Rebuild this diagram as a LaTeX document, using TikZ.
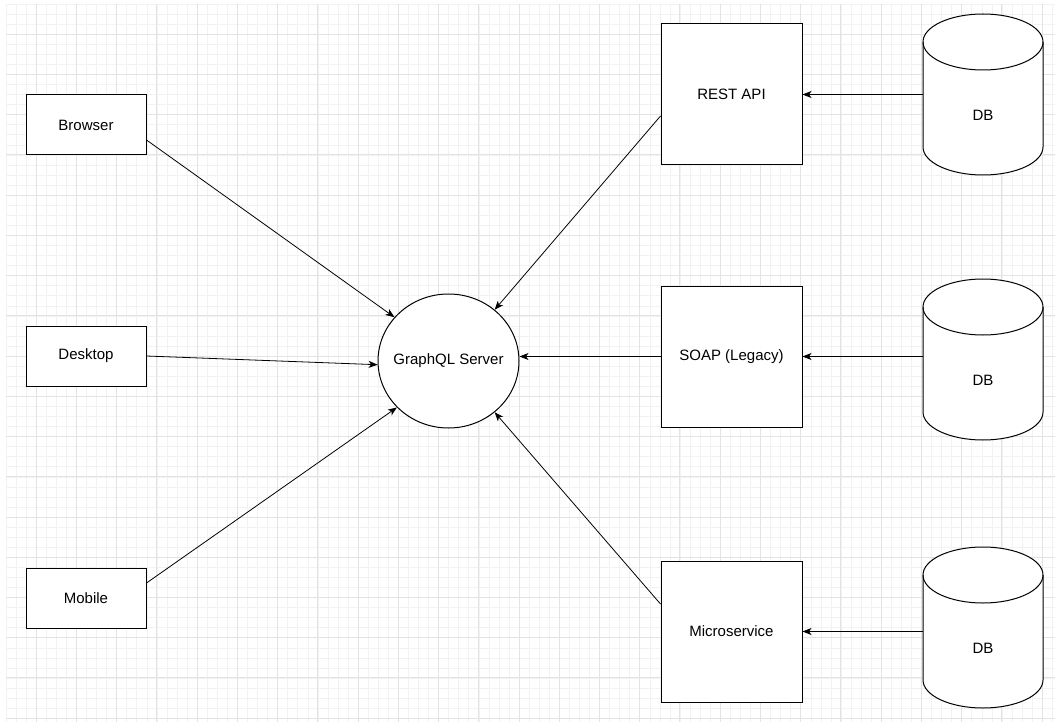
\documentclass[tikz,border=0pt]{standalone}
\usepackage{fontspec}
\setmainfont{Liberation Sans}
\usetikzlibrary{shapes.geometric,arrows.meta}
\definecolor{gridminor}{HTML}{F2F2F2}
\definecolor{gridmajor}{HTML}{E3E3E3}
\newcommand\mydbcyl[2]{%
  \node[draw=none,minimum width=120pt,minimum height=161pt,inner sep=0pt] (#2) at (983,{#1+80.5}) {};
  \draw[shapeline,fill=white] (923,{#1+28}) -- (923,{#1+133})
     arc[start angle=180,end angle=0,x radius=60,y radius=28] -- (1043,{#1+28})
     arc[start angle=0,end angle=-180,x radius=60,y radius=28] -- cycle;
  \draw[shapeline] (923,{#1+28}) arc[start angle=180,end angle=0,x radius=60,y radius=28];
  \node[lbl] (#2t) at (983,{#1+101}) {DB};
}
\begin{document}
\begin{tikzpicture}[x=1pt,y=-1pt,
  shapeline/.style={draw=black,line width=1pt},
  lbl/.style={font=\fontsize{15}{18}\selectfont,inner sep=0pt},
  box/.style={shapeline,fill=white,rectangle,inner sep=0pt,font=\fontsize{15}{18}\selectfont},
  conn/.style={draw=black,line width=0.8pt,-{Stealth[length=9pt,width=7pt,inset=2.5pt]}}]
\useasboundingbox (0,0) rectangle (1055,722);
\fill[white] (0,0) rectangle (1055,722);
% grid
\foreach \i in {0,...,104} \draw[gridminor,line width=0.6pt] ({6+\i*10.06},4) -- ({6+\i*10.06},722);
\foreach \i in {0,...,71} \draw[gridminor,line width=0.6pt] (6,{4+\i*10.06}) -- (1055,{4+\i*10.06});
\foreach \i in {0,...,25} \draw[gridmajor,line width=0.7pt] ({36+\i*40.24},4) -- ({36+\i*40.24},722);
\foreach \i in {0,...,17} \draw[gridmajor,line width=0.7pt] (6,{34+\i*40.24}) -- (1055,{34+\i*40.24});
% clients
\node[box,minimum width=120pt,minimum height=60pt] (browser) at (86,125) {Browser};
\node[box,minimum width=120pt,minimum height=60pt] (desktop) at (86,356) {Desktop};
\node[box,minimum width=120pt,minimum height=60pt] (mobile) at (86,598) {Mobile};
% server
\node[box,ellipse,minimum width=141pt,minimum height=134pt,
      label={[lbl]center:GraphQL Server}] (gql) at (448.5,361) {};
% services
\node[box,minimum width=141pt,minimum height=141pt] (rest) at (731.5,94.5) {REST API};
\node[box,minimum width=141pt,minimum height=141pt] (soap) at (731.5,356.5) {SOAP (Legacy)};
\node[box,minimum width=141pt,minimum height=141pt] (micro) at (731.5,631.5) {Microservice};
% databases
\mydbcyl{14}{db1}
\mydbcyl{279}{db2}
\mydbcyl{547}{db3}
% connectors
\draw[conn] ([yshift=-15pt]browser.east) -- (gql.141);
\draw[conn] (desktop.east) -- (gql.183);
\draw[conn] ([yshift=15pt]mobile.east) -- (gql.222);
\draw[conn] ([yshift=-21.5pt]rest.west) -- (gql.48);
\draw[conn] (soap.west) -- (soap.west -| gql.east);
\draw[conn] ([yshift=27.5pt]micro.west) -- (gql.-48);
\draw[conn] (db1.west |- rest.east) -- (rest.east);
\draw[conn] (db2.west |- soap.east) -- (soap.east);
\draw[conn] (db3.west |- micro.east) -- (micro.east);
\end{tikzpicture}
\end{document}
